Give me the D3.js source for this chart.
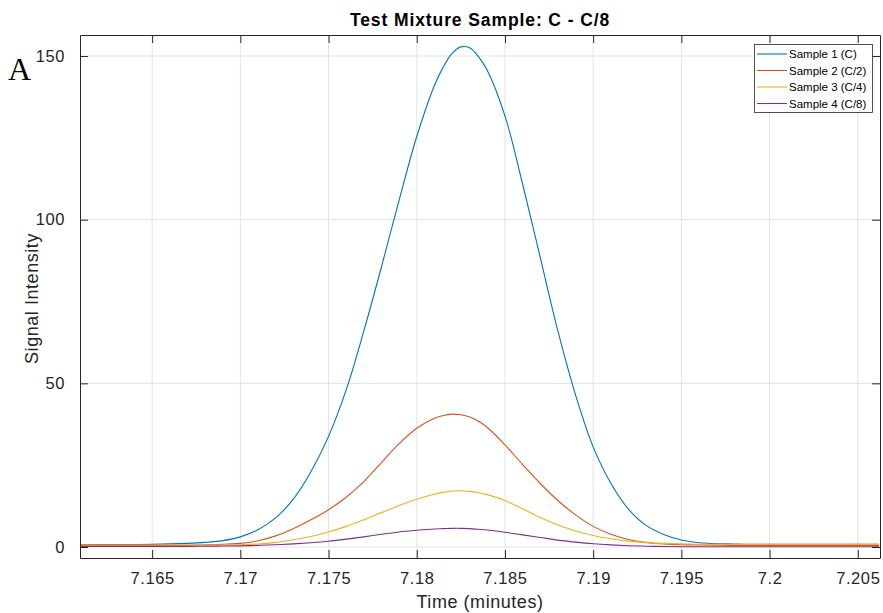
<!DOCTYPE html>
<html>
<head>
<meta charset="utf-8">
<script src="https://cdn.jsdelivr.net/npm/d3@7"></script>
<style>
  html, body { margin: 0; padding: 0; background: #fff; }
  svg { display: block; font-family: Arial, "Liberation Sans", Helvetica, sans-serif; }
</style>
</head>
<body>
<svg id="chart" width="883" height="613"></svg>
<script>
// Retention time (minutes) shared by all four traces
const time = [7.1609, 7.163, 7.165, 7.167, 7.168, 7.169, 7.170, 7.171, 7.172, 7.173,
  7.174, 7.175, 7.176, 7.177, 7.178, 7.179, 7.180, 7.181, 7.1815, 7.182,
  7.1825, 7.183, 7.1835, 7.184, 7.185, 7.186, 7.187, 7.188, 7.189, 7.190,
  7.191, 7.192, 7.193, 7.194, 7.195, 7.196, 7.198, 7.200, 7.203, 7.2062];

const sample1 = [0.7, 0.75, 0.8, 1.1, 1.4, 1.95, 3.1, 5.3, 8.9, 14.6,
  23.0, 33.8, 48.0, 66.0, 85.6, 106.0, 125.4, 141.0, 146.6, 150.8,
  152.8, 152.5, 149.8, 145.6, 131.7, 110.9, 88.5, 66.0, 46.5, 30.6,
  19.5, 11.6, 6.6, 3.85, 2.15, 1.3, 0.9, 0.8, 0.8, 0.8];

const sample2 = [0.5, 0.5, 0.5, 0.55, 0.65, 0.85, 1.1, 1.9, 3.4, 5.6,
  8.3, 11.4, 15.2, 20.0, 25.8, 31.6, 36.3, 39.3, 40.2, 40.6,
  40.4, 39.7, 38.4, 36.5, 31.2, 25.2, 19.4, 14.2, 9.8, 6.3,
  3.9, 2.3, 1.4, 0.9, 0.7, 0.6, 0.5, 0.5, 0.5, 0.5];

const sample3 = [0.6, 0.6, 0.6, 0.6, 0.6, 0.6, 0.7, 0.9, 1.4, 2.2,
  3.2, 4.6, 6.3, 8.3, 10.5, 12.7, 14.6, 16.1, 16.7, 17.1,
  17.2, 17.0, 16.6, 16.0, 14.2, 11.7, 9.0, 6.7, 4.9, 3.5,
  2.5, 1.8, 1.35, 1.1, 0.95, 0.85, 0.8, 0.8, 0.8, 0.8];

const sample4 = [0.15, 0.15, 0.15, 0.2, 0.25, 0.3, 0.35, 0.5, 0.7, 0.95,
  1.3, 1.75, 2.4, 3.1, 3.9, 4.6, 5.1, 5.5, 5.6, 5.7,
  5.7, 5.6, 5.4, 5.2, 4.5, 3.7, 2.9, 2.1, 1.5, 1.0,
  0.65, 0.4, 0.25, 0.15, 0.1, 0.1, 0.1, 0.1, 0.1, 0.1];

const seriesNames = ["Sample 1 (C)", "Sample 2 (C/2)", "Sample 3 (C/4)", "Sample 4 (C/8)"];
const seriesColors = ["#0072BD", "#D95319", "#EDB120", "#7E2F8E"];
const seriesValues = [sample1, sample2, sample3, sample4];

const xTicks = [7.165, 7.17, 7.175, 7.18, 7.185, 7.19, 7.195, 7.2, 7.205];
const yTicks = [0, 50, 100, 150];

const titleText = "Test Mixture Sample: C - C/8";
const xLabel = "Time (minutes)";
const yLabel = "Signal Intensity";
const panelLetter = "A";

// Layout
const plot = { left: 80, right: 880, top: 35, bottom: 558 };
const axisColor = "#262626";
const gridColor = "#e3e3e3";
const tickLen = 8;

const svg = d3.select("#chart");

const x = d3.scaleLinear().domain([7.16091, 7.20626]).range([plot.left, plot.right]);
const y = d3.scaleLinear().domain([-3.36, 156.42]).range([plot.bottom, plot.top]);

// Grid lines
const grid = svg.append("g");
grid.selectAll("line.gx").data(xTicks).join("line")
  .attr("x1", d => x(d)).attr("x2", d => x(d))
  .attr("y1", plot.top).attr("y2", plot.bottom)
  .attr("stroke", gridColor).attr("stroke-width", 1);
grid.selectAll("line.gy").data(yTicks).join("line")
  .attr("x1", plot.left).attr("x2", plot.right)
  .attr("y1", d => y(d)).attr("y2", d => y(d))
  .attr("stroke", gridColor).attr("stroke-width", 1);

// Traces
svg.append("clipPath").attr("id", "plotclip").append("rect")
  .attr("x", plot.left).attr("y", plot.top)
  .attr("width", plot.right - plot.left).attr("height", plot.bottom - plot.top);

const line = d3.line()
  .x((d, i) => x(time[i]))
  .y(d => y(d))
  .curve(d3.curveCatmullRom.alpha(0.5));

svg.append("g").attr("clip-path", "url(#plotclip)")
  .selectAll("path").data(seriesValues).join("path")
  .attr("d", d => line(d))
  .attr("fill", "none")
  .attr("stroke", (d, i) => seriesColors[i])
  .attr("stroke-width", 1.1);

// Axes (ticks point inward, box on all sides)
const fmt = d => String(d);
const xAxisB = d3.axisBottom(x).tickValues(xTicks).tickFormat(fmt).tickSizeInner(-tickLen).tickSizeOuter(0).tickPadding(14);
const xAxisT = d3.axisTop(x).tickValues(xTicks).tickFormat("").tickSizeInner(-tickLen).tickSizeOuter(0);
const yAxisL = d3.axisLeft(y).tickValues(yTicks).tickFormat(fmt).tickSizeInner(-tickLen).tickSizeOuter(0).tickPadding(15);
const yAxisR = d3.axisRight(y).tickValues(yTicks).tickFormat("").tickSizeInner(-tickLen).tickSizeOuter(0);

function styleAxis(g) {
  g.select(".domain").attr("stroke", axisColor);
  g.selectAll(".tick line").attr("stroke", axisColor);
  g.selectAll(".tick text").attr("fill", axisColor).style("font-size", "16.5px")
    .style("letter-spacing", "0.6px")
    .style("font-family", "Arial, 'Liberation Sans', sans-serif");
}

svg.append("g").attr("transform", `translate(0,${plot.bottom})`).call(xAxisB).call(styleAxis);
svg.append("g").attr("transform", `translate(0,${plot.top})`).call(xAxisT).call(styleAxis);
svg.append("g").attr("transform", `translate(${plot.left},0)`).call(yAxisL).call(styleAxis);
svg.append("g").attr("transform", `translate(${plot.right},0)`).call(yAxisR).call(styleAxis);

// Title and axis labels
svg.append("text")
  .attr("x", (plot.left + plot.right) / 2).attr("y", 26)
  .attr("text-anchor", "middle")
  .style("font-weight", "bold").style("font-size", "17.5px")
  .style("letter-spacing", "0.9px")
  .attr("fill", "#000")
  .text(titleText);

svg.append("text")
  .attr("x", (plot.left + plot.right) / 2).attr("y", 608)
  .attr("text-anchor", "middle")
  .style("font-size", "18px").style("letter-spacing", "0.55px")
  .attr("fill", axisColor)
  .text(xLabel);

svg.append("text")
  .attr("transform", `translate(38,${(plot.top + plot.bottom) / 2 + 2}) rotate(-90)`)
  .attr("text-anchor", "middle")
  .style("font-size", "18px").style("letter-spacing", "0.55px")
  .attr("fill", axisColor)
  .text(yLabel);

svg.append("text")
  .attr("x", 8).attr("y", 80)
  .style("font-family", "'Liberation Serif', 'Times New Roman', serif")
  .style("font-size", "32px")
  .attr("fill", "#000")
  .text(panelLetter);

// Legend
const legend = { x: 754, y: 44, w: 118, h: 68, row: 16.5 };
const lg = svg.append("g");
lg.append("rect")
  .attr("x", legend.x + 0.5).attr("y", legend.y + 0.5)
  .attr("width", legend.w).attr("height", legend.h)
  .attr("fill", "#fff").attr("stroke", axisColor).attr("stroke-width", 0.8);
const rows = lg.selectAll("g.row").data(seriesNames).join("g")
  .attr("transform", (d, i) => `translate(${legend.x},${legend.y + 10 + i * legend.row})`);
rows.append("line")
  .attr("x1", 3).attr("x2", 33).attr("y1", 0).attr("y2", 0)
  .attr("stroke", (d, i) => seriesColors[i]).attr("stroke-width", 1.1);
rows.append("text")
  .attr("x", 35).attr("y", 4)
  .style("font-size", "11.5px")
  .attr("fill", "#000")
  .text(d => d);
</script>
</body>
</html>
